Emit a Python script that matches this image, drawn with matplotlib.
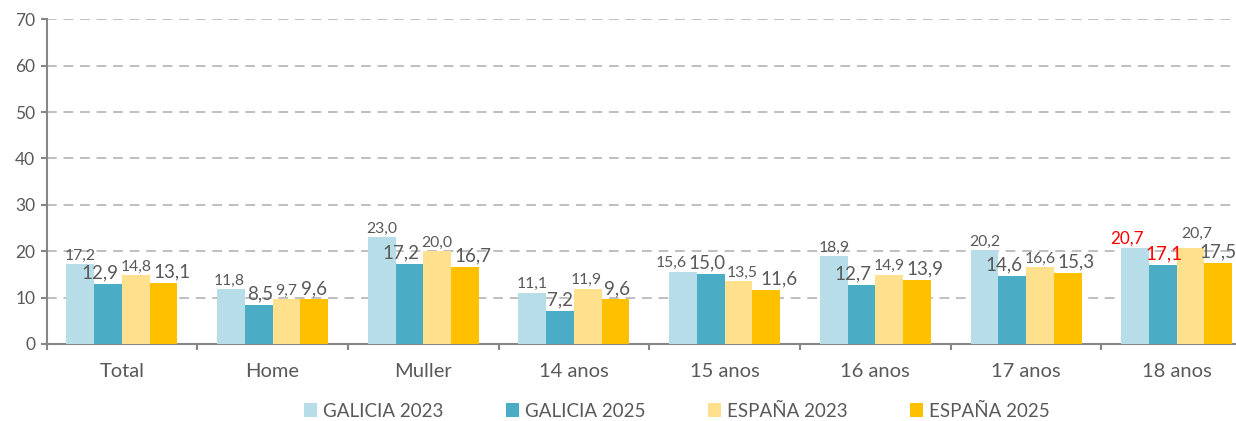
import numpy as np
import matplotlib.pyplot as plt

categories = ['Total', 'Home', 'Muller', '14 anos', '15 anos', '16 anos', '17 anos', '18 anos']
galicia_2023 = [17.2, 11.8, 23.0, 11.1, 15.6, 18.9, 20.2, 20.7]
galicia_2025 = [12.9, 8.5, 17.2, 7.2, 15.0, 12.7, 14.6, 17.1]
espana_2023 = [14.8, 9.7, 20.0, 11.9, 13.5, 14.9, 16.6, 20.7]
espana_2025 = [13.1, 9.6, 16.7, 9.6, 11.6, 13.9, 15.3, 17.5]

series_names = ['GALICIA 2023', 'GALICIA 2025', 'ESPAÑA 2023', 'ESPAÑA 2025']
series = [galicia_2023, galicia_2025, espana_2023, espana_2025]
colors = ['#B7DEE8', '#4BACC6', '#FFE08C', '#FFC000']
label_sizes = [11.3, 13.5, 11.3, 13.5]

plt.rcParams['font.family'] = ['Lato', 'DejaVu Sans']
text_color = '#595959'
axis_color = '#868686'
DPI = 100

fig = plt.figure(figsize=(12.36, 4.21), dpi=DPI)
ax = fig.add_axes([46.5 / 1236, 1 - 344 / 421, 1205.6 / 1236, 324.7 / 421])

x = np.arange(len(categories))
w = 0.184
labels = [[] for _ in categories]  # data labels per group, left to right
for i, (vals, name) in enumerate(zip(series, series_names)):
    pos = x + (i - 1.5) * w
    ax.bar(pos, vals, width=w, color=colors[i], label=name, zorder=3)
    for j, (px, v) in enumerate(zip(pos, vals)):
        col = text_color
        size = label_sizes[i]
        # highlighted values in the last group
        if j == len(categories) - 1 and i in (0, 1):
            col = '#FF0000'
            size = 12.3 if i == 0 else 13.5
        off = 3.3 if size < 13 else 4
        t = ax.annotate(f'{v:.1f}'.replace('.', ','), (px, v), xytext=(0, off),
                        textcoords='offset points', ha='center', va='baseline',
                        fontsize=size, color=col, zorder=4)
        labels[j].append(t)

ax.set_xlim(-0.5, len(categories) - 0.5)
ax.set_ylim(0, 70)
ax.set_yticks(np.arange(0, 71, 10))
ax.set_xticks(x)
ax.set_xticklabels(categories)
ax.set_xticks(np.arange(-0.5, len(categories)), minor=True)

ax.tick_params(axis='x', which='major', length=0, pad=14, labelsize=14.5, labelcolor=text_color)
ax.tick_params(axis='x', which='minor', length=4, width=1.5, color=axis_color, direction='out')
ax.tick_params(axis='y', length=4, width=1.5, color=axis_color, pad=4, labelsize=12.5, labelcolor=text_color)

for v in range(10, 71, 10):
    ax.axhline(v, color='#BFBFBF', lw=1.4, ls=(0, (5, 3.5)), zorder=1)

for s in ['top', 'right']:
    ax.spines[s].set_visible(False)
for s in ['left', 'bottom']:
    ax.spines[s].set_color(axis_color)
    ax.spines[s].set_linewidth(1.5)

leg = fig.legend(loc='center', bbox_to_anchor=(677 / 1236, 1 - 411 / 421), ncol=4,
                 frameon=False, fontsize=13.5, handlelength=0.7, handleheight=0.7,
                 handletextpad=0.3, columnspacing=3.35, borderaxespad=0)
for t in leg.get_texts():
    t.set_color(text_color)

# nudge touching data labels apart, like Excel does
fig.canvas.draw()
renderer = fig.canvas.get_renderer()
fig_w = fig.bbox.width
gap = 2  # px
for _ in range(6):
    moved = False
    for group in labels:
        for a, b in zip(group[:-1], group[1:]):
            ba = a.get_window_extent(renderer)
            bb = b.get_window_extent(renderer)
            if ba.y1 <= bb.y0 or bb.y1 <= ba.y0:
                continue
            overlap = ba.x1 + gap - bb.x0
            if overlap <= 0:
                continue
            if bb.x1 + overlap / 2 > fig_w - 1:
                # no room on the right: lift the left label instead
                lift = (bb.y1 + gap - ba.y0) * 72 / DPI
                a.xyann = (a.xyann[0], a.xyann[1] + lift)
            else:
                d = overlap * 72 / DPI
                a.xyann = (a.xyann[0] - d / 2, a.xyann[1])
                b.xyann = (b.xyann[0] + d / 2, b.xyann[1])
            moved = True
    if not moved:
        break

fig.savefig('out.png', dpi=DPI)
